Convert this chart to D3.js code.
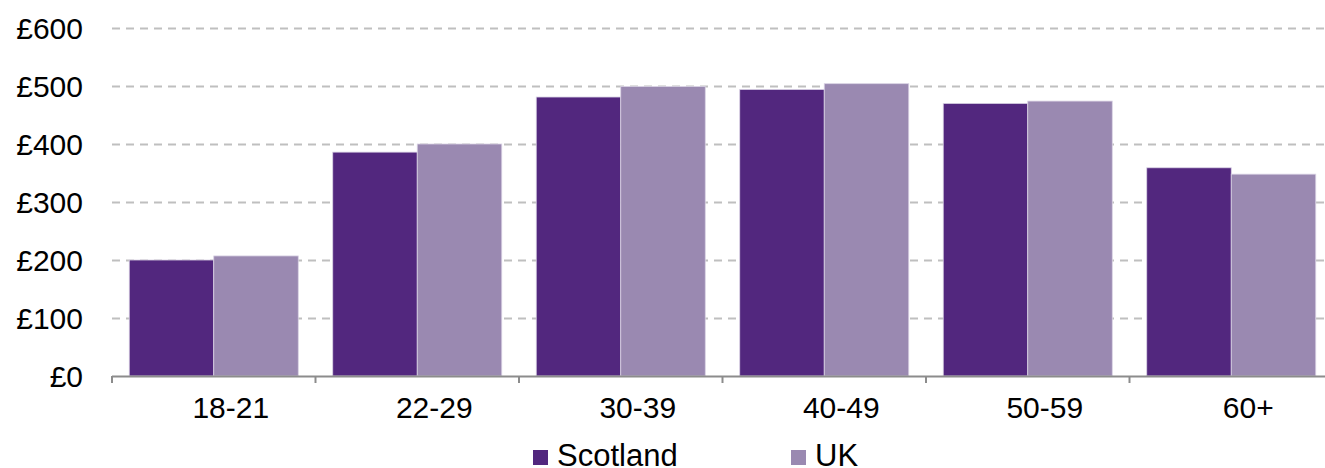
<!DOCTYPE html>
<html><head><meta charset="utf-8">
<script src="https://cdn.jsdelivr.net/npm/d3@7"></script>
<style>body{margin:0;background:#fff;} svg{display:block;} text{font-family:"Liberation Sans",Arial,sans-serif;fill:#000;}</style>
</head><body>
<svg id="c" width="1325" height="468"></svg>
<script>
const categories = ["18-21","22-29","30-39","40-49","50-59","60+"];
const scotland = [200, 386, 481, 494, 470, 359];
const uk = [207, 400, 499, 504, 474, 348];
const seriesNames = ["Scotland","UK"];
const yTicks = [0,100,200,300,400,500,600];
const colors = {Scotland:"#52277e", UK:"#9a89b1"};

const svg = d3.select("#c");
const y = d3.scaleLinear().domain([0,600]).range([376,28]);
const x = d3.scaleBand().domain(categories).range([112,1333]).paddingInner(0).paddingOuter(0);
const xs = d3.scaleBand().domain(seriesNames).range([0,x.bandwidth()]).paddingInner(0).paddingOuter(0.204);

// gridlines
svg.append("g").selectAll("line").data(yTicks.filter(d=>d>0)).join("line")
  .attr("x1",112).attr("x2",1333).attr("y1",d=>Math.round(y(d))+0.5).attr("y2",d=>Math.round(y(d))+0.5)
  .attr("stroke","#bfbfbf").attr("stroke-width",2).attr("stroke-dasharray","8,6");

// y labels
const fmt = d=>"£"+d;
svg.append("g").selectAll("text").data(yTicks).join("text")
  .attr("x",83).attr("y",d=>y(d)).attr("dy","0.36em").attr("text-anchor","end")
  .style("font-size","30px").text(fmt);

// bars
const data = categories.map((c,i)=>({c, vals:[{s:"Scotland",v:scotland[i]},{s:"UK",v:uk[i]}]}));
const g = svg.append("g").selectAll("g").data(data).join("g").attr("transform",d=>`translate(${x(d.c)},0)`);
g.selectAll("rect").data(d=>d.vals).join("rect")
  .attr("x",d=>xs(d.s)).attr("width",xs.bandwidth())
  .attr("y",d=>y(d.v)).attr("height",d=>y(0)-y(d.v))
  .attr("fill",d=>colors[d.s]).attr("stroke","#d9d2e4").attr("stroke-width",0.8);

// x axis
const ax = svg.append("g").attr("transform","translate(0,376)");
ax.append("line").attr("x1",112).attr("x2",1333).attr("y1",0.5).attr("y2",0.5).attr("stroke","#8c8c8c").attr("stroke-width",2);
ax.selectAll("line.t").data(d3.range(categories.length+1)).join("line").attr("class","t")
  .attr("x1",i=>112+i*x.step()).attr("x2",i=>112+i*x.step()).attr("y1",0).attr("y2",7)
  .attr("stroke","#8c8c8c").attr("stroke-width",2);
ax.selectAll("text.l").data(categories).join("text").attr("class","l")
  .attr("x",d=>x(d)+x.bandwidth()/2+17).attr("y",42).attr("text-anchor","middle")
  .style("font-size","30px").text(d=>d);

// legend
const leg = svg.append("g");
const legX = {Scotland:533, UK:791};
seriesNames.forEach(s=>{
  leg.append("rect").attr("x",legX[s]).attr("y",450).attr("width",15).attr("height",15).attr("fill",colors[s]);
  leg.append("text").attr("x",legX[s]+24).attr("y",466).style("font-size","31px").text(s);
});
</script>
</body></html>
